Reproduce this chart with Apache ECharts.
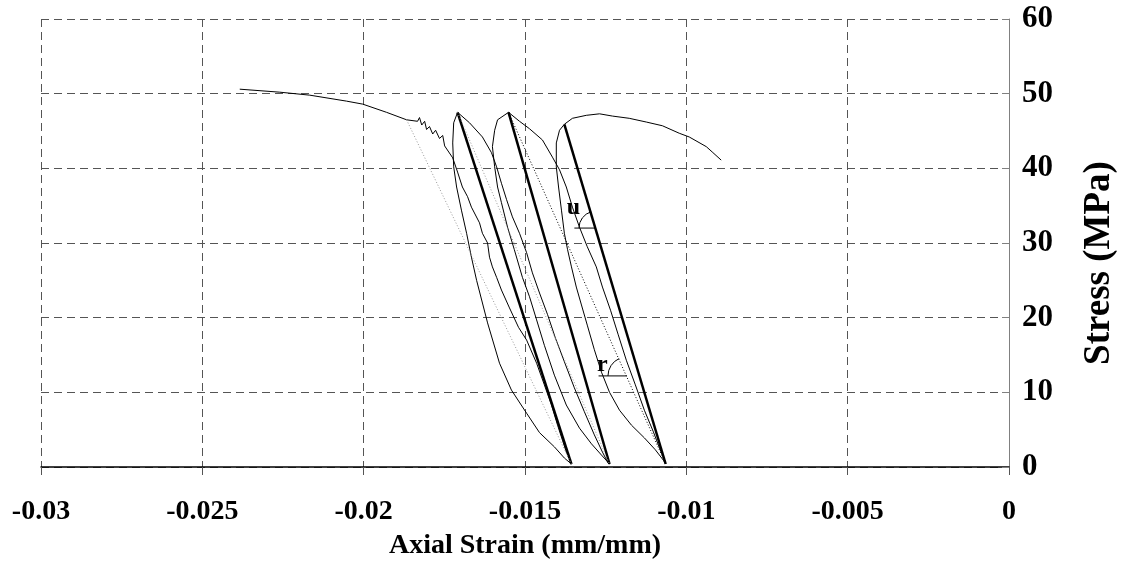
<!DOCTYPE html>
<html>
<head>
<meta charset="utf-8">
<title>Stress - Axial Strain</title>
<script src="https://cdn.jsdelivr.net/npm/echarts@6/dist/echarts.min.js"></script>
<style>
  html, body { margin: 0; padding: 0; background: #fff; }
  #chart { width: 1126px; height: 567px; }
</style>
</head>
<body>
<div id="chart"></div>
<script>
// Axial strain (mm/mm) vs stress (MPa)

const xTicks = [-0.03, -0.025, -0.02, -0.015, -0.01, -0.005, 0]
const yTicks = [0, 10, 20, 30, 40, 50, 60]

// peaks and bottoms of the three cycles
const peaks = [[-0.01709, 47.5], [-0.01551, 47.5], [-0.01378, 45.9]]
const bottoms = [[-0.01356, 0.4], [-0.01238, 0.4], [-0.01064, 0.4]]
// start point of the first (grey) secant on the envelope
const envelopeSecantStart = [-0.01867, 46.5]

// envelope, the jagged part, then dropping to the first bottom
const envelopeCurve = [
    [-0.02384, 50.6], [-0.02260, 50.2], [-0.02167, 49.8], [-0.02053, 49.0], [-0.02003, 48.6],
    [-0.01929, 47.5], [-0.01867, 46.5], [-0.01833, 46.3], [-0.01827, 46.8], [-0.01820, 45.8],
    [-0.01811, 46.3], [-0.01805, 45.2], [-0.01796, 45.6], [-0.01786, 44.6], [-0.01777, 45.1],
    [-0.01765, 44.0], [-0.01755, 44.4], [-0.01749, 43.0], [-0.01724, 41.4], [-0.01709, 39.5],
    [-0.01694, 37.5], [-0.01678, 36.2], [-0.01666, 34.8], [-0.01641, 32.7], [-0.01632, 31.3],
    [-0.01616, 30.0], [-0.01610, 28.1], [-0.01601, 26.8], [-0.01588, 25.4], [-0.01573, 23.7],
    [-0.01548, 21.3], [-0.01520, 18.7], [-0.01495, 17.0], [-0.01464, 13.9], [-0.01440, 11.0],
    [-0.01418, 8.3], [-0.01399, 5.6], [-0.01384, 3.6], [-0.01372, 2.0], [-0.01359, 0.7],
    [-0.01356, 0.4]
]

// bottom 1 back up to peak 1
const reload1 = [
    [-0.01356, 0.4], [-0.01378, 1.2], [-0.01409, 2.7], [-0.01455, 4.6], [-0.01495, 7.2],
    [-0.01542, 10.3], [-0.01579, 13.9], [-0.01616, 19.3], [-0.01650, 25.0], [-0.01666, 28.1],
    [-0.01681, 31.3], [-0.01697, 34.4], [-0.01712, 37.5], [-0.01721, 40.2], [-0.01724, 43.4],
    [-0.01721, 46.1], [-0.01709, 47.5]
]

// peak 1 down to bottom 2
const unload1 = [
    [-0.01709, 47.5], [-0.01672, 46.1], [-0.01632, 44.2], [-0.01604, 42.1], [-0.01588, 40.2],
    [-0.01573, 38.0], [-0.01557, 35.8], [-0.01539, 33.5], [-0.01517, 31.3], [-0.01495, 28.7],
    [-0.01477, 26.0], [-0.01455, 23.3], [-0.01430, 20.4], [-0.01406, 17.3], [-0.01378, 14.1],
    [-0.01347, 10.6], [-0.01316, 7.4], [-0.01285, 4.3], [-0.01260, 2.0], [-0.01242, 0.5],
    [-0.01238, 0.4]
]

// bottom 2 back up to peak 2
const reload2 = [
    [-0.01238, 0.4], [-0.01263, 1.6], [-0.01294, 3.1], [-0.01331, 5.2], [-0.01372, 8.3],
    [-0.01409, 12.3], [-0.01440, 16.3], [-0.01464, 19.7], [-0.01486, 22.8], [-0.01508, 25.4],
    [-0.01533, 29.1], [-0.01554, 32.1], [-0.01573, 35.4], [-0.01585, 37.5], [-0.01594, 40.2],
    [-0.01601, 42.9], [-0.01594, 45.1], [-0.01585, 46.5], [-0.01551, 47.5]
]

// peak 2 down to bottom 3
const unload2 = [
    [-0.01551, 47.5], [-0.01517, 46.3], [-0.01486, 45.3], [-0.01446, 43.8], [-0.01415, 41.5],
    [-0.01393, 39.8], [-0.01372, 37.5], [-0.01353, 34.8], [-0.01331, 32.1], [-0.01307, 29.5],
    [-0.01279, 26.8], [-0.01260, 24.1], [-0.01235, 21.0], [-0.01211, 17.7], [-0.01186, 14.3],
    [-0.01158, 11.0], [-0.01130, 7.6], [-0.01102, 4.7], [-0.01081, 2.3], [-0.01065, 0.7],
    [-0.01064, 0.4]
]

// bottom 3 back up to peak 3
const reload3 = [
    [-0.01064, 0.4], [-0.01071, 0.9], [-0.01096, 2.3], [-0.01130, 3.9], [-0.01170, 5.6],
    [-0.01207, 7.6], [-0.01238, 10.0], [-0.01263, 12.7], [-0.01285, 15.7], [-0.01307, 19.0],
    [-0.01325, 21.7], [-0.01341, 24.1], [-0.01356, 26.8], [-0.01368, 29.1], [-0.01378, 31.3],
    [-0.01387, 34.4], [-0.01396, 37.5], [-0.01403, 40.2], [-0.01403, 43.4], [-0.01393, 45.1],
    [-0.01378, 45.9]
]

// after peak 3
const tailCurve = [
    [-0.01378, 45.9], [-0.01353, 46.7], [-0.01310, 47.1], [-0.01269, 47.3], [-0.01229, 47.0],
    [-0.01177, 46.7], [-0.01124, 46.2], [-0.01074, 45.7], [-0.01022, 44.7], [-0.00991, 44.2],
    [-0.00938, 42.9], [-0.00920, 42.2], [-0.00892, 41.1]
]

// angle markers: label, anchor of the label, short horizontal line
const angleLabels = ["u", "r"]
const angleLabelAt = [[-0.01350, 34.7], [-0.01260, 13.7]]
const angleLines = [
    [[-0.01347, 32.0], [-0.01280, 32.0]],
    [[-0.01272, 12.2], [-0.01184, 12.2]]
]

const serif = "'Liberation Serif', 'Times New Roman', serif"

function thinLine(data) {
    return {
        type: "line",
        data: data,
        showSymbol: false,
        silent: true,
        lineStyle: { color: "#000", width: 1 },
    }
}

function segment(a, b, style) {
    return {
        type: "line",
        data: [a, b],
        showSymbol: false,
        silent: true,
        lineStyle: style,
    }
}

document.addEventListener("DOMContentLoaded", () => {
    const chart = echarts.init(document.getElementById("chart"))

    const series = [
        thinLine(envelopeCurve),
        thinLine(reload1),
        thinLine(unload1),
        thinLine(reload2),
        thinLine(unload2),
        thinLine(reload3),
        thinLine(tailCurve),
        // secants (thick)
        segment(peaks[0], bottoms[0], { color: "#000", width: 2.5 }),
        segment(peaks[1], bottoms[1], { color: "#000", width: 2.5 }),
        segment(peaks[2], bottoms[2], { color: "#000", width: 2.5 }),
        // dotted secants
        segment(envelopeSecantStart, bottoms[0], { color: "#999", width: 1, type: [1, 2] }),
        segment(peaks[0], bottoms[1], { color: "#999", width: 1, type: [1, 2] }),
        segment(peaks[1], bottoms[2], { color: "#000", width: 1, type: [1, 2] }),
    ]
    angleLines.forEach((l) => series.push(segment(l[0], l[1], { color: "#000", width: 1 })))

    const option = {
        animation: false,
        backgroundColor: "#fff",
        grid: { left: 41, right: 116, top: 19, bottom: 100 },
        xAxis: {
            type: "value",
            min: xTicks[0],
            max: xTicks[xTicks.length - 1],
            interval: 0.005,
            name: "Axial Strain (mm/mm)",
            nameLocation: "middle",
            nameGap: 65,
            nameTextStyle: { fontFamily: serif, fontWeight: "bold", fontSize: 28, color: "#000" },
            axisLine: { onZero: false, lineStyle: { color: "#000", width: 1.5 } },
            axisTick: { show: true, inside: false, length: 8, lineStyle: { color: "#555" } },
            axisLabel: {
                margin: 31,
                fontFamily: serif,
                fontWeight: "bold",
                fontSize: 28,
                color: "#000",
                formatter: (v) => String(+v.toFixed(3)),
            },
            splitLine: { show: true, lineStyle: { color: "#555", type: [8, 5], width: 1 } },
        },
        yAxis: {
            type: "value",
            position: "right",
            min: yTicks[0],
            max: yTicks[yTicks.length - 1],
            interval: 10,
            name: "Stress (MPa)",
            nameLocation: "middle",
            nameRotate: 90,
            nameGap: 72,
            nameTextStyle: {
                fontFamily: serif,
                fontWeight: "bold",
                fontSize: 37,
                color: "#000",
                padding: [0, 40, 0, 0],
            },
            axisLine: { show: true, onZero: false, lineStyle: { color: "#808080", width: 1 } },
            axisTick: { show: true, inside: true, length: 7, lineStyle: { color: "#808080" } },
            axisLabel: { margin: 13, fontFamily: serif, fontWeight: "bold", fontSize: 31, color: "#000" },
            splitLine: { show: true, lineStyle: { color: "#555", type: [8, 5], width: 1 } },
        },
        series: series,
    }

    chart.setOption(option)

    // angle labels and arcs, placed from data coordinates
    const toPx = (p) => chart.convertToPixel({ xAxisIndex: 0, yAxisIndex: 0 }, p)
    const graphics = []
    angleLabels.forEach((txt, i) => {
        const p = toPx(angleLabelAt[i])
        graphics.push({
            type: "text",
            x: p[0],
            y: p[1],
            style: {
                text: txt,
                fontFamily: serif,
                fontWeight: "bold",
                fontSize: 24,
                fill: "#000",
                align: "center",
                verticalAlign: "middle",
            },
            silent: true,
        })
    })
    // arc u: between horizontal line and secant of cycle 3
    const cu = toPx(angleLines[0][1])
    graphics.push({
        type: "arc",
        shape: { cx: cu[0], cy: cu[1], r: 17, startAngle: Math.PI, endAngle: Math.PI + 1.28, clockwise: true },
        style: { stroke: "#000", fill: null, lineWidth: 1 },
        silent: true,
    })
    // arc r: between horizontal line and dotted secant
    const cr = toPx(angleLines[1][1])
    graphics.push({
        type: "arc",
        shape: { cx: cr[0], cy: cr[1], r: 19, startAngle: Math.PI, endAngle: Math.PI + 1.15, clockwise: true },
        style: { stroke: "#000", fill: null, lineWidth: 1 },
        silent: true,
    })
    chart.setOption({ graphic: graphics })

    window.addEventListener("resize", () => {
        chart.resize()
    })
})
</script>
</body>
</html>
